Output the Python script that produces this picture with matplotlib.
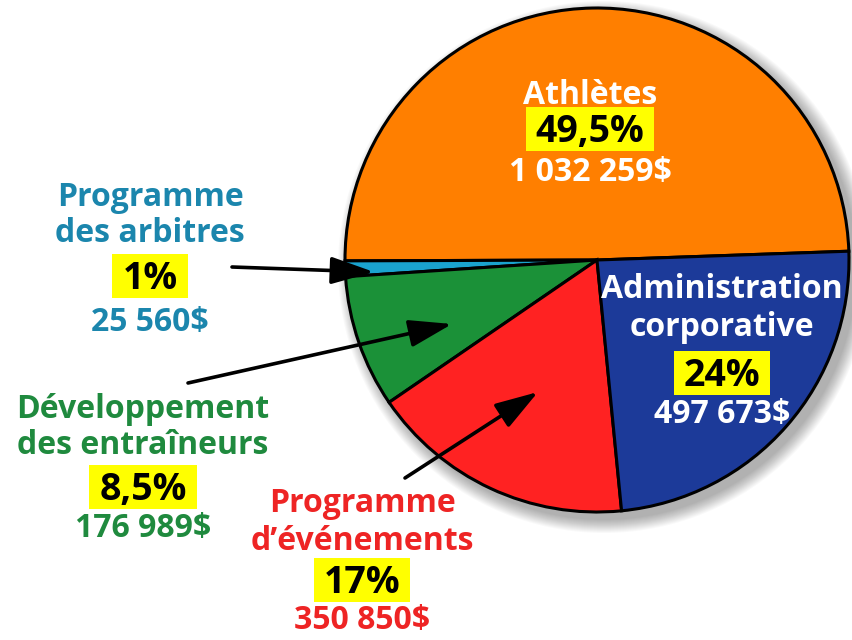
import matplotlib
matplotlib.use("Agg")
import matplotlib.pyplot as plt
from matplotlib.patches import Circle, Rectangle

# ---- data ----
labels = ["Athlètes", "Programme\ndes arbitres", "Développement\ndes entraîneurs",
          "Programme\nd’événements", "Administration\ncorporative"]
shares = [49.5, 1, 8.5, 17, 24]
pct_labels = ["49,5%", "1%", "8,5%", "17%", "24%"]
amounts = ["1 032 259$", "25 560$", "176 989$", "350 850$", "497 673$"]

wedge_colors = ["#FF7F00", "#1AA3CF", "#1B9138", "#FF2222", "#1C3A99"]
text_colors = ["white", "#1B86AD", "#1F8A3E", "#EE2424", "white"]

# label layout (pixel coords, y from top): x, first line y, pct y, amount y
label_pos = [(590, 95, 129, 172),
             (150, 197, 276, 322),
             (143, 409, 487, 529),
             (362, 504, 580, 621),
             (722, 290, 373, 415)]
line_gap = 37
# arrows: (start, tip) in pixel coords
arrows = {1: ((232, 267), (374, 272)),
          2: ((188, 383), (452, 324)),
          3: ((405, 478), (538, 392))}

W, H = 852, 640
fig = plt.figure(figsize=(W / 100, H / 100), dpi=100)
ax = fig.add_axes([0, 0, 1, 1])
ax.set_xlim(0, W)
ax.set_ylim(0, H)
ax.set_aspect("equal")
ax.axis("off")

def Y(py):
    return H - py

cx, cy, r = 597, Y(260), 252

# soft shadow
for k in range(14):
    ax.add_patch(Circle((cx + 7, cy - 7), r + 14 - k, color="black",
                        alpha=0.025, lw=0, zorder=0))

ax.pie(shares, colors=wedge_colors, startangle=2, counterclock=True,
       center=(cx, cy), radius=r, frame=True,
       wedgeprops=dict(edgecolor="black", linewidth=2.2))
ax.set_xlim(0, W)
ax.set_ylim(0, H)
ax.axis("off")

font = "Open Sans"
name_fs = 23
pct_fs = 27
digit_h = 0.714 * pct_fs * 100 / 72

fig.canvas.draw()
renderer = fig.canvas.get_renderer()

for i, (lab, pct, amt) in enumerate(zip(labels, pct_labels, amounts)):
    x, y0, yp, ya = label_pos[i]
    for j, line in enumerate(lab.split("\n")):
        ax.text(x, Y(y0 + j * line_gap), line, ha="center", va="center",
                fontsize=name_fs, fontweight="bold", color=text_colors[i],
                family=font, zorder=5)
    t = ax.text(x, Y(yp + digit_h / 2), pct, ha="center", va="baseline",
                fontsize=pct_fs, fontweight="bold", color="black",
                family=font, zorder=6)
    bb = t.get_window_extent(renderer)
    bw = bb.width + 20
    ax.add_patch(Rectangle((x - bw / 2, Y(yp) - 22), bw, 44,
                           fc="#FFFF00", ec="none", zorder=5))
    ax.text(x, Y(ya), amt, ha="center", va="center", fontsize=name_fs,
            fontweight="bold", color=text_colors[i], family=font, zorder=5)

for i, (s, t) in arrows.items():
    ax.annotate("", xy=(t[0], Y(t[1])), xytext=(s[0], Y(s[1])),
                arrowprops=dict(arrowstyle="-|>,head_length=1.1,head_width=0.35",
                                lw=2.6, color="black", mutation_scale=24,
                                shrinkA=0, shrinkB=0), zorder=7)

fig.savefig("out.png", dpi=100)
